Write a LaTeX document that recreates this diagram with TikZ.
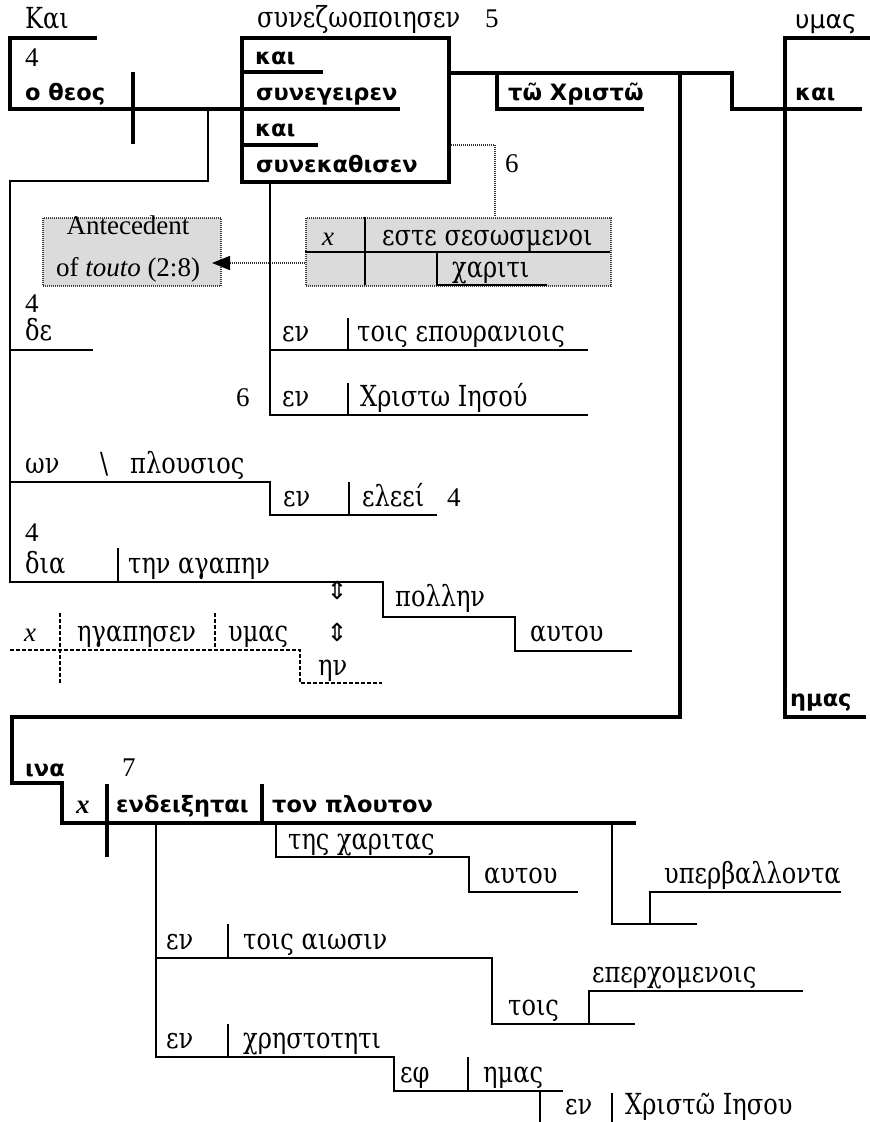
\documentclass[tikz,border=0pt]{standalone}
\usepackage{fontspec}
\setmainfont{Liberation Serif}
\newfontfamily\gkr{DejaVu Serif}[FakeStretch=0.83]
\newfontfamily\gkb{DejaVu Sans}
\newfontfamily\arrfont{DejaVu Sans}
\usetikzlibrary{arrows.meta}
\tikzset{
  thk/.style={line width=4pt},
  thn/.style={line width=2pt},
  dsh/.style={line width=1.4pt, dash pattern=on 4pt off 2pt},
  dotl/.style={line width=1.6pt, dash pattern=on 1pt off 1pt, draw=black!80},
  gr/.style={inner sep=0pt, anchor=base west, font=\gkr\fontsize{29}{33}\selectfont},
  gb/.style={inner sep=0pt, anchor=base west, font=\gkb\bfseries\fontsize{22.5}{26}\selectfont},
  gs/.style={inner sep=0pt, anchor=base west, font=\gkb\fontsize{25}{28}\selectfont},
  lt/.style={inner sep=0pt, anchor=base west, font=\fontsize{27}{31}\selectfont},
  ltc/.style={inner sep=0pt, anchor=base, font=\fontsize{27}{31}\selectfont},
  graybox/.style={fill=black!14, draw=black!75, line width=1.6pt, dash pattern=on 1pt off 1pt, inner sep=0pt, anchor=north west},
  updn/.style={inner sep=0pt, anchor=center, font=\arrfont\fontsize{25}{27}\selectfont},
}
\begin{document}
\begin{tikzpicture}[x=1pt,y=-1pt]
\useasboundingbox (0,0) rectangle (870,1122);

% ---------------- gray boxes
\node[graybox, minimum width=305pt, minimum height=68pt] (gbox) at (305,217) {};
\node[graybox, minimum width=178pt, minimum height=68pt] (ante) at (42,217) {};
\node[ltc] (ante1) at (128,234) {Antecedent};
\node[ltc] (ante2) at (128,276) {of \textit{touto} (2:8)};
\draw[thn] (305,252) -- (610,252);
\draw[thn] (365,217) -- (365,285);
\draw[thn] (437,252) -- (437,285) -- (547,285);
\coordinate (arS) at (305,263);
\coordinate (arE) at (212,263);
\draw[dotl, -{Triangle[length=18pt,width=14pt,color=black]}] (arS) -- (arE);
\node[lt, font=\itshape\fontsize{27}{31}\selectfont] (gx) at (322,245) {x};
\node[gr] (este) at (382,245) {εστε σεσωσμενοι};
\node[gr] (xariti) at (452,277) {χαριτι};
\draw[dotl] (449,145) -- (495,145) -- (495,217);

% ---------------- top: subject
\draw[thk] (97,38) -- (10,38) -- (10,109) -- (242,109);
\draw[thk] (133,72) -- (133,144);
\node[gr] (kai0) at (25,28) {Και};
\node[lt] (n4a) at (25,66) {4};
\node[gb] (theos) at (25,100) {ο θεος};

% ---------------- compound verb box
\draw[thk] (242,36) -- (242,182) -- (449,182) -- (449,38) -- (240,38);
\draw[thk] (242,72) -- (323,72);
\draw[thk] (242,109) -- (400,109);
\draw[thk] (242,145) -- (318,145);
\node[gr] (synez) at (257,27) {συνεζωοποιησεν};
\node[lt] (n5) at (485,27) {5};
\node[gb] (kai1) at (255,64) {και};
\node[gb] (syneg) at (256,100) {συνεγειρεν};
\node[gb] (kai2) at (255,136) {και};
\node[gb] (synek) at (256,172) {συνεκαθισεν};
\node[lt] (n6a) at (505,172) {6};

% ---------------- predicate right side
\draw[thk] (449,73) -- (732,73) -- (732,109) -- (862,109);
\draw[thk] (497,73) -- (497,109) -- (644,109);
\node[gb] (xristo) at (508,100) {τῶ Χριστῶ};
\draw[thk] (785,36) -- (785,717) -- (866,717);
\draw[thk] (785,38) -- (870,38);
\node[gs] (hymas) at (795,28) {υμας};
\node[gb] (kai3) at (795,100) {και};
\node[gb] (hemas) at (790,706) {ημας};

% ---------------- big frame to lower clause
\draw[thk] (680,73) -- (680,717) -- (12,717) -- (12,783) -- (62,783) -- (62,823) -- (636,823);

% ---------------- modifiers of verbs
\draw[thn] (270,182) -- (270,415) -- (588,415);
\draw[thn] (270,350) -- (588,350);
\draw[thn] (348,318) -- (348,350);
\draw[thn] (348,383) -- (348,415);
\node[gr] (en1) at (282,341) {εν};
\node[gr] (epour) at (357,341) {τοις επουρανιοις};
\node[lt] (n6b) at (236,406) {6};
\node[gr] (en2) at (282,406) {εν};
\node[gr] (xriI) at (360,406) {Χριστω Ιησού};

% ---------------- left column
\draw[thn] (208,109) -- (208,181) -- (10,181) -- (10,582) -- (383,582) -- (383,617) -- (515,617) -- (515,651) -- (632,651);
\draw[thn] (10,350) -- (93,350);
\node[lt] (n4b) at (25,312) {4};
\node[gr] (de) at (25,340) {δε};
\draw[thn] (10,482) -- (270,482) -- (270,515) -- (437,515);
\draw[thn] (349,482) -- (349,515);
\node[gr] (on) at (25,473) {ων};
\node[gr] (bsl) at (100,473) {\textbackslash};
\node[gr] (plous) at (130,473) {πλουσιος};
\node[gr] (en3) at (283,506) {εν};
\node[gr] (eleei) at (362,506) {ελεεί};
\node[lt] (n4c) at (447,506) {4};
\node[lt] (n4d) at (25,541) {4};
\draw[thn] (118,548) -- (118,582);
\node[gr] (dia) at (25,573) {δια};
\node[gr] (agap) at (128,573) {την αγαπην};
\node[gr] (pollen) at (395,606) {πολλην};
\node[gr] (autou1) at (530,641) {αυτου};
\node[updn] (ud1) at (337,590) {⇕};
\node[updn] (ud2) at (337,632) {⇕};

% ---------------- dashed relative clause
\draw[dsh] (10,650) -- (300,650) -- (300,683) -- (382,683);
\draw[dsh] (60,613) -- (60,683);
\draw[dsh] (215,613) -- (215,650);
\node[lt, font=\itshape\fontsize{27}{31}\selectfont] (dx) at (24,641) {x};
\node[gr] (egap) at (77,641) {ηγαπησεν};
\node[gr] (hymas2) at (228,641) {υμας};
\node[gr] (hn) at (318,675) {ην};

% ---------------- lower clause
\draw[thk] (107,784) -- (107,857);
\draw[thk] (262,784) -- (262,823);
\node[gb] (hina) at (25,776) {ινα};
\node[lt] (n7) at (122,776) {7};
\node[lt, font=\itshape\bfseries\fontsize{27}{31}\selectfont] (lx) at (76,813) {x};
\node[gb] (endeix) at (116,812) {ενδειξηται};
\node[gb] (plouton) at (272,812) {τον πλουτον};

\draw[thn] (276,823) -- (276,857) -- (469,857) -- (469,892) -- (578,892);
\node[gr] (xaritas) at (288,849) {της χαριτας};
\node[gr] (autou2) at (484,883) {αυτου};
\draw[thn] (612,823) -- (612,924) -- (697,924);
\draw[thn] (650,924) -- (650,892) -- (841,892);
\node[gr] (hyperb) at (664,883) {υπερβαλλοντα};

\draw[thn] (156,823) -- (156,1057) -- (394,1057) -- (394,1091) -- (563,1091);
\draw[thn] (156,958) -- (492,958) -- (492,1024) -- (635,1024);
\draw[thn] (589,1024) -- (589,991) -- (803,991);
\draw[thn] (228,924) -- (228,958);
\draw[thn] (228,1024) -- (228,1057);
\draw[thn] (468,1057) -- (468,1091);
\draw[thn] (540,1091) -- (540,1122);
\draw[thn] (612,1093) -- (612,1122);
\node[gr] (en4) at (166,949) {εν};
\node[gr] (aiosin) at (243,949) {τοις αιωσιν};
\node[gr] (eperx) at (592,982) {επερχομενοις};
\node[gr] (tois) at (508,1015) {τοις};
\node[gr] (en5) at (166,1048) {εν};
\node[gr] (xrest) at (243,1048) {χρηστοτητι};
\node[gr] (eph) at (400,1082) {εφ};
\node[gr] (hemas2) at (483,1082) {ημας};
\node[gr] (en6) at (565,1114) {εν};
\node[gr] (xri2) at (625,1114) {Χριστῶ Ιησου};
\end{tikzpicture}
\end{document}
